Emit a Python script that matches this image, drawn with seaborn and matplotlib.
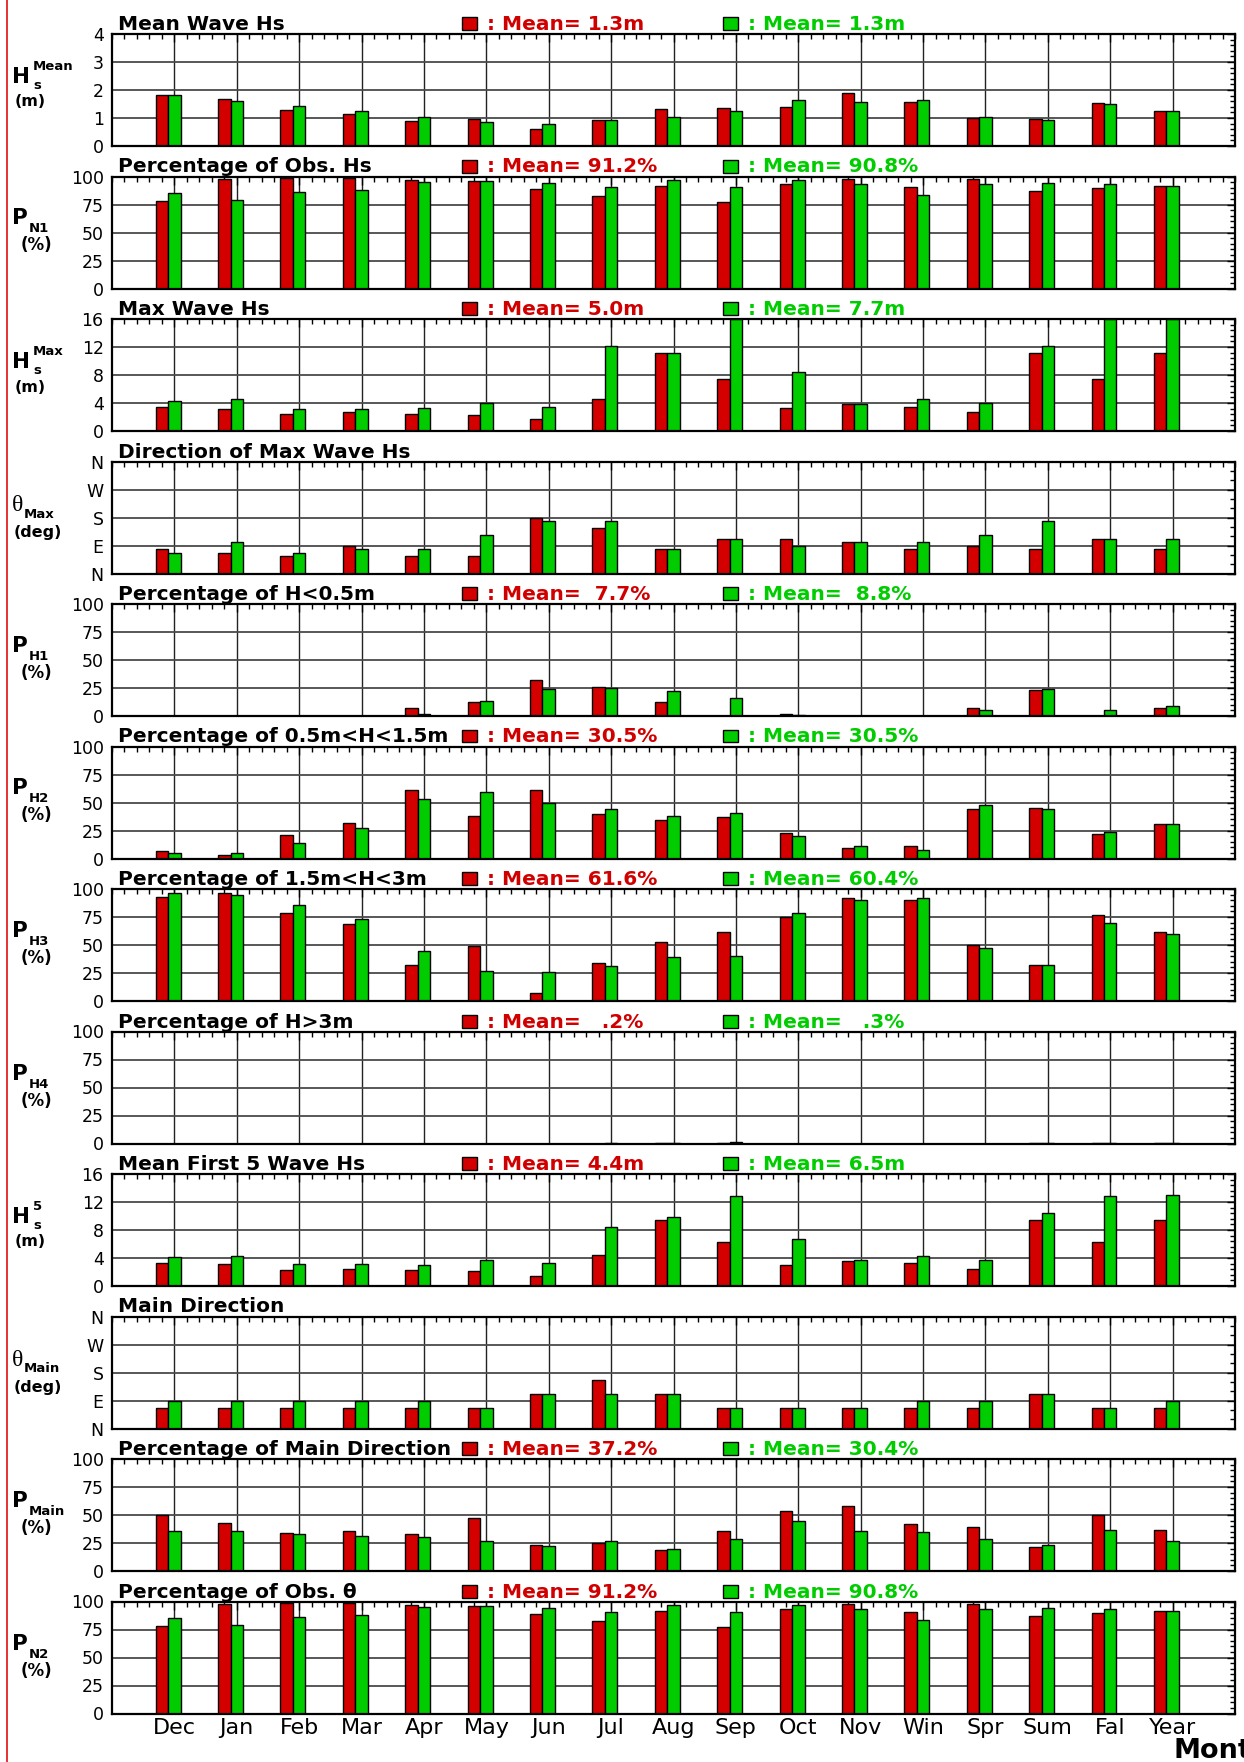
import numpy as np
import pandas as pd
import seaborn as sns
import matplotlib.pyplot as plt
from matplotlib.patches import Rectangle
from matplotlib.lines import Line2D
from matplotlib.ticker import FixedLocator, MultipleLocator

sns.set_style('white')
plt.rcParams['font.family'] = ['DejaVu Sans']
plt.rcParams['xtick.direction'] = 'in'
plt.rcParams['ytick.direction'] = 'in'
plt.rcParams['text.color'] = 'black'
plt.rcParams['xtick.color'] = 'black'
plt.rcParams['ytick.color'] = 'black'
plt.rcParams['axes.labelcolor'] = 'black'

W, H = 1244, 1762
RED = '#d40000'
GREEN = '#00cc00'
RED_TXT = '#d00000'

months = ['Dec', 'Jan', 'Feb', 'Mar', 'Apr', 'May', 'Jun', 'Jul', 'Aug', 'Sep',
          'Oct', 'Nov', 'Win', 'Spr', 'Sum', 'Fal', 'Year']

# values (red series / green series)
mean_hs_red = [1.81, 1.67, 1.27, 1.14, 0.89, 0.96, 0.60, 0.94, 1.31, 1.35, 1.38, 1.88, 1.56, 1.00, 0.96, 1.54, 1.26]
mean_hs_green = [1.81, 1.61, 1.43, 1.26, 1.02, 0.85, 0.79, 0.93, 1.04, 1.24, 1.63, 1.58, 1.63, 1.02, 0.92, 1.49, 1.26]

obs_hs_red = [78, 97.6, 98.5, 98.5, 96.7, 96.4, 88.7, 83, 91.4, 77.2, 93.2, 97.9, 90.8, 97.6, 87.5, 89.6, 91.4]
obs_hs_green = [85.5, 78.6, 86, 87.8, 95.3, 96.4, 93.8, 90.8, 96.7, 90.5, 96.7, 92.9, 83.4, 93.2, 93.8, 93.2, 91.1]

max_hs_red = [3.4, 3.1, 2.4, 2.7, 2.4, 2.3, 1.7, 4.6, 11.1, 7.5, 3.3, 3.85, 3.4, 2.7, 11.1, 7.5, 11.1]
max_hs_green = [4.3, 4.6, 3.1, 3.2, 3.3, 4.0, 3.4, 12.1, 11.1, 16.0, 8.5, 3.85, 4.6, 4.0, 12.1, 16.0, 16.0]

dir_max_red = [78.75, 67.5, 56.25, 90, 56.25, 56.25, 180, 146.25, 78.75, 112.5, 112.5, 101.25, 78.75, 90, 78.75, 112.5, 78.75]
dir_max_green = [67.5, 101.25, 67.5, 78.75, 78.75, 123.75, 168.75, 168.75, 78.75, 112.5, 90, 101.25, 101.25, 123.75, 168.75, 112.5, 112.5]

ph1_red = [0, 0, 0, 0, 6.9, 12.8, 32, 26.3, 12.2, 0, 2.0, 0, 0, 6.8, 23, 0.3, 7.5]
ph1_green = [0, 0, 0, 0, 1.8, 13.4, 24.5, 25.4, 22.7, 16.4, 0.6, 0, 0, 5, 24.2, 5.4, 8.7]

ph2_red = [7, 3, 21, 32, 61, 38, 61, 40, 34, 37, 23, 9, 11, 44, 45, 22, 31]
ph2_green = [5, 5, 14, 27, 53, 59, 50, 44, 38, 41, 20, 11, 8, 48, 44, 24, 31]

ph3_red = [93, 96, 79, 69, 32, 49, 7, 34, 53, 62, 75, 92, 90, 50, 32, 77, 62]
ph3_green = [96, 95, 86, 73, 45, 27, 26, 31, 39, 40, 79, 90, 92, 47, 32, 70, 60]

ph4_red = [0, 0, 0, 0, 0, 0, 0, 0, 0.4, 0.6, 0, 0, 0, 0, 0.1, 0.3, 0.1]
ph4_green = [0, 0, 0, 0, 0, 0, 0, 0.1, 0.2, 1.6, 0, 0, 0, 0, 0.1, 0.2, 0.2]

first5_red = [3.35, 3.1, 2.25, 2.5, 2.3, 2.1, 1.5, 4.4, 9.4, 6.35, 2.95, 3.6, 3.35, 2.5, 9.4, 6.35, 9.5]
first5_green = [4.1, 4.3, 3.1, 3.1, 3.05, 3.7, 3.35, 8.4, 9.8, 12.9, 6.7, 3.7, 4.3, 3.7, 10.4, 12.9, 13.0]

dir_main_red = [67.5, 67.5, 67.5, 67.5, 67.5, 67.5, 112.5, 157.5, 112.5, 67.5, 67.5, 67.5, 67.5, 67.5, 112.5, 67.5, 67.5]
dir_main_green = [90, 90, 90, 90, 90, 67.5, 112.5, 112.5, 112.5, 67.5, 67.5, 67.5, 90, 90, 112.5, 67.5, 90]

pmain_red = [50, 43, 34, 36, 33, 47, 23, 25, 19, 36, 54, 58, 42, 39, 21, 50, 37]
pmain_green = [36, 36, 33, 31, 30, 27, 22, 27, 20, 29, 45, 36, 35, 29, 23, 37, 27]

obs_dir_red = [78, 97.6, 98.5, 98.5, 96.7, 96.4, 88.7, 83, 91.4, 77.2, 93.2, 97.9, 90.8, 97.6, 87.5, 89.6, 91.4]
obs_dir_green = [85.5, 78.6, 86, 87.8, 95.3, 96.4, 93.8, 90.8, 96.7, 90.5, 96.7, 92.9, 83.4, 93.2, 93.8, 93.2, 91.1]

pct = dict(ylim=(0, 100), yticks=[0, 25, 50, 75, 100], ylabels=None, yminor=5)
hs4 = dict(ylim=(0, 4), yticks=[0, 1, 2, 3, 4], ylabels=None, yminor=0.2)
hs16 = dict(ylim=(0, 16), yticks=[0, 4, 8, 12, 16], ylabels=None, yminor=0.8)
deg = dict(ylim=(0, 360), yticks=[0, 90, 180, 270, 360], ylabels=['N', 'E', 'S', 'W', 'N'], yminor=30)

panels = [
    dict(title='Mean Wave Hs', red=mean_hs_red, green=mean_hs_green, sym='H', sup='Mean', sub='s', unit='(m)',
         leg=(': Mean= 1.3m', ': Mean= 1.3m'), **hs4),
    dict(title='Percentage of Obs. Hs', red=obs_hs_red, green=obs_hs_green, sym='P', sup=None, sub='N1', unit='(%)',
         leg=(': Mean= 91.2%', ': Mean= 90.8%'), **pct),
    dict(title='Max Wave Hs', red=max_hs_red, green=max_hs_green, sym='H', sup='Max', sub='s', unit='(m)',
         leg=(': Mean= 5.0m', ': Mean= 7.7m'), **hs16),
    dict(title='Direction of Max Wave Hs', red=dir_max_red, green=dir_max_green, sym='θ', sup=None, sub='Max',
         unit='(deg)', leg=None, **deg),
    dict(title='Percentage of H<0.5m', red=ph1_red, green=ph1_green, sym='P', sup=None, sub='H1', unit='(%)',
         leg=(': Mean=  7.7%', ': Mean=  8.8%'), **pct),
    dict(title='Percentage of 0.5m<H<1.5m', red=ph2_red, green=ph2_green, sym='P', sup=None, sub='H2', unit='(%)',
         leg=(': Mean= 30.5%', ': Mean= 30.5%'), **pct),
    dict(title='Percentage of 1.5m<H<3m', red=ph3_red, green=ph3_green, sym='P', sup=None, sub='H3', unit='(%)',
         leg=(': Mean= 61.6%', ': Mean= 60.4%'), **pct),
    dict(title='Percentage of H>3m', red=ph4_red, green=ph4_green, sym='P', sup=None, sub='H4', unit='(%)',
         leg=(': Mean=   .2%', ': Mean=   .3%'), **pct),
    dict(title='Mean First 5 Wave Hs', red=first5_red, green=first5_green, sym='H', sup='5', sub='s', unit='(m)',
         leg=(': Mean= 4.4m', ': Mean= 6.5m'), **hs16),
    dict(title='Main Direction', red=dir_main_red, green=dir_main_green, sym='θ', sup=None, sub='Main',
         unit='(deg)', leg=None, **deg),
    dict(title='Percentage of Main Direction', red=pmain_red, green=pmain_green, sym='P', sup=None, sub='Main',
         unit='(%)', leg=(': Mean= 37.2%', ': Mean= 30.4%'), **pct),
    dict(title='Percentage of Obs. θ', red=obs_dir_red, green=obs_dir_green, sym='P', sup=None, sub='N2',
         unit='(%)', leg=(': Mean= 91.2%', ': Mean= 90.8%'), **pct),
]


def fx(x):
    return x / W


def fy(y):
    return 1 - y / H


fig = plt.figure(figsize=(W / 100, H / 100), dpi=100)

for i, p in enumerate(panels):
    top = 34 + 142.5 * i
    ax = fig.add_axes([fx(112), fy(top + 112), 1123 / W, 112 / H])
    df = pd.DataFrame({'month': months * 2,
                       'series': ['red'] * len(months) + ['green'] * len(months),
                       'value': list(p['red']) + list(p['green'])})
    sns.barplot(data=df, x='month', y='value', hue='series', order=months, hue_order=['red', 'green'],
                palette=[RED, GREEN], width=0.4, dodge=True, saturation=1, errorbar=None,
                edgecolor='black', linewidth=1, legend=False, ax=ax)
    ax.set_xlim(-0.9, 17.1)
    ax.set_ylim(*p['ylim'])
    ax.set_xticks(np.arange(len(months)) + 0.1)
    ax.xaxis.set_minor_locator(FixedLocator(np.arange(-0.9, 17.15, 0.2)))
    ax.set_yticks(p['yticks'])
    if p['ylabels']:
        ax.set_yticklabels(p['ylabels'])
    ax.yaxis.set_minor_locator(MultipleLocator(p['yminor']))
    ax.set_axisbelow(True)
    ax.grid(True, which='major', axis='y', color='#4a4a4a', lw=1.3)
    ax.grid(True, which='major', axis='x', color='#222222', lw=1.0)
    ax.set_xlabel('')
    ax.set_ylabel('')
    ax.tick_params(which='both', direction='in', top=True, right=True, color='black', width=1)
    ax.tick_params(which='major', length=6)
    ax.tick_params(which='minor', length=3.5)
    ax.tick_params(axis='y', labelsize=12.5, pad=6, labelcolor='black')
    if i == len(panels) - 1:
        ax.set_xticklabels(months, fontsize=16, color='black')
        ax.tick_params(axis='x', pad=3)
    else:
        ax.set_xticklabels([])
    for s in ax.spines.values():
        s.set_linewidth(1.6)
        s.set_color('black')

    # panel title and mean legend
    fig.text(fx(118), fy(top - 4), p['title'], fontsize=14.5, fontweight='bold', va='baseline', ha='left',
             color='black')
    if p['leg']:
        for x0, col, tcol, txt in [(462, RED, RED_TXT, p['leg'][0]), (723, GREEN, GREEN, p['leg'][1])]:
            fig.add_artist(Rectangle((fx(x0), fy(top - 4)), 15 / W, 13 / H, transform=fig.transFigure,
                                     facecolor=col, edgecolor='black', lw=1))
            fig.text(fx(x0 + 25), fy(top - 4), txt, color=tcol, fontsize=14.5, fontweight='bold',
                     va='baseline', ha='left')

    # left-hand axis label
    if p['sym'] == 'θ':
        fig.text(fx(12), fy(top + 49), 'θ', family=['Liberation Serif', 'DejaVu Serif'], fontsize=17,
                 va='baseline', ha='left')
        fig.text(fx(24), fy(top + 56), p['sub'], fontsize=9.5, fontweight='bold', va='baseline', ha='left')
        fig.text(fx(38), fy(top + 71), p['unit'], fontsize=11.5, fontweight='bold', va='center', ha='center')
    elif p['sym'] == 'H':
        fig.text(fx(12), fy(top + 49), 'H', fontsize=15.5, fontweight='bold', va='baseline', ha='left')
        fig.text(fx(33), fy(top + 36), p['sup'], fontsize=9.5, fontweight='bold', va='baseline', ha='left')
        fig.text(fx(33), fy(top + 55), p['sub'], fontsize=9.5, fontweight='bold', va='baseline', ha='left')
        fig.text(fx(30), fy(top + 68), p['unit'], fontsize=11.5, fontweight='bold', va='center', ha='center')
    else:
        fig.text(fx(12), fy(top + 48), 'P', fontsize=15.5, fontweight='bold', va='baseline', ha='left')
        fig.text(fx(29), fy(top + 56), p['sub'], fontsize=9.5, fontweight='bold', va='baseline', ha='left')
        fig.text(fx(36), fy(top + 69), p['unit'], fontsize=12, fontweight='bold', va='center', ha='center')

fig.text(fx(1173), fy(1758), 'Month', fontsize=19.5, fontweight='bold', va='baseline', ha='left')
fig.add_artist(Line2D([fx(6.5), fx(6.5)], [0, 1], transform=fig.transFigure, color='#dd1111', lw=1.2))

fig.savefig('out.png', dpi=100)
